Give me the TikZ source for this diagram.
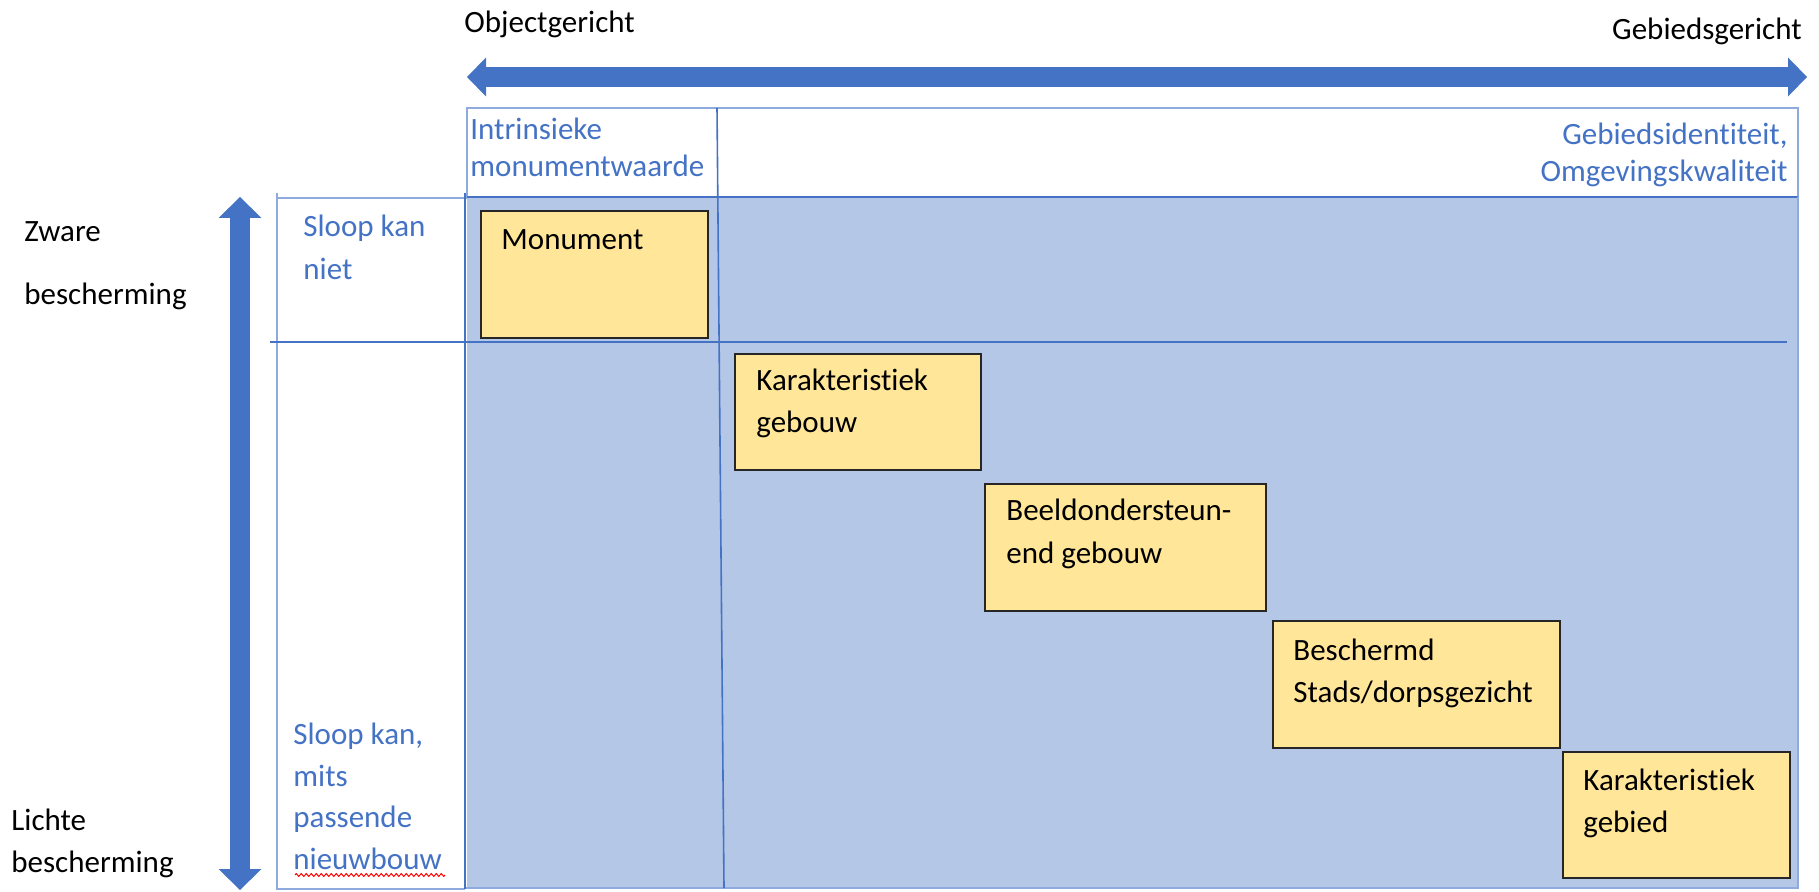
\documentclass[tikz,border=0pt]{standalone}
\usepackage{fontspec}
\setmainfont{Carlito}[Ligatures=CommonOff]
\usetikzlibrary{arrows.meta,positioning,decorations.pathmorphing}
\definecolor{blauw}{HTML}{4472C4}
\definecolor{vlak}{HTML}{B4C7E7}
\definecolor{lijn}{HTML}{8FAADC}
\definecolor{geel}{HTML}{FFE699}
\definecolor{rand}{HTML}{262626}

\begin{document}
\begin{tikzpicture}[
        x=0.5pt, y=-0.5pt, % 1 eenheid = 1 pixel, y naar beneden
        pijl/.style={draw=blauw, line width=10pt},
        kader/.style={draw=rand, fill=geel, line width=1pt, anchor=north west, inner sep=0pt},
        kadertekst/.style={anchor=base west, align=left, inner sep=0pt, font=\fontsize{15.5}{21}\selectfont}, % base = laatste regel
        as/.style={anchor=base west, align=left, inner sep=0pt, font=\fontsize{15.5}{21}\selectfont},
        kop/.style={anchor=base west, align=left, inner sep=0pt, text=blauw, font=\fontsize{15.5}{18.5}\selectfont},
        rij/.style={anchor=base west, align=left, inner sep=0pt, text=blauw, font=\fontsize{15.5}{21}\selectfont},
    ]
    \useasboundingbox (0,0) rectangle (1819,892);

    % vlakken en rasterlijnen
    \fill[vlak] (467,197) rectangle (1798,888);
    \draw[lijn, line width=0.7pt] (467,108) rectangle (1798,197);
    \draw[blauw, line width=1.2pt] (467,197) -- (1798,197);
    \draw[lijn, line width=0.7pt] (277,193) -- (277,889) -- (465,889);
    \draw[lijn, line width=0.7pt] (277,198) -- (467,198);
    \draw[lijn, line width=0.7pt] (1798,197) -- (1798,888) -- (465,888);
    \draw[blauw, line width=0.8pt] (465,193) -- (465,889);
    \draw[blauw, line width=0.8pt] (270,342) -- (1787,342);
    \draw[blauw, line width=0.8pt] (717,108) -- (724,888);

    % pijlen
    \coordinate (objectpunt) at (467,77);
    \coordinate (gebiedpunt) at (1807,77);
    \coordinate (zwaarpunt) at (240,197);
    \coordinate (lichtpunt) at (240,890);
    \draw[pijl, {Triangle[length=9.5pt,width=19.5pt,line width=0pt]}-{Triangle[length=9.5pt,width=19.5pt,line width=0pt]}] (objectpunt) -- (gebiedpunt);
    \draw[pijl, {Triangle[length=10.5pt,width=21.5pt,line width=0pt]}-{Triangle[length=10.5pt,width=21.5pt,line width=0pt]}] (zwaarpunt) -- (lichtpunt);

    % assen
    \node[as] (object) at (464,33) {Objectgericht};
    \node[as, anchor=base east] (gebied) at (1802,40) {Gebiedsgericht};
    \node[as, font=\fontsize{15.5}{31.5}\selectfont] (zwaar) at (24,305) {Zware\\bescherming};
    \node[as] (licht) at (11,872) {Lichte\\bescherming};

    % kopjes
    \node[kop] (intrinsiek) at (470,177) {Intrinsieke\\monumentwaarde};
    \node[kop, anchor=base east, align=right] (identiteit) at (1788,182) {Gebiedsidentiteit,\\Omgevingskwaliteit};
    \node[rij, font=\fontsize{15.5}{21.5}\selectfont] (sloopniet) at (303,280) {Sloop kan\\niet};
    \node[rij, font=\fontsize{15.5}{20.7}\selectfont] (sloopwel) at (293,869) {Sloop kan,\\mits\\passende\\nieuwbouw};
    \draw[red, line width=0.5pt, decorate, decoration={zigzag, segment length=2.5pt, amplitude=0.7pt}] (295,875) -- (445,875);

    % kaders
    \node[kader, minimum width=113.5pt, minimum height=63.5pt] (monument) at (480,210) {};
    \node[kader, minimum width=123pt, minimum height=58pt] (kargebouw) at (734,353) {};
    \node[kader, minimum width=140.5pt, minimum height=63.5pt] (beeld) at (984,483) {};
    \node[kader, minimum width=143.5pt, minimum height=63.5pt] (stads) at (1272,620) {};
    \node[kader, minimum width=113.5pt, minimum height=63pt] (kargebied) at (1562,751) {};

    \node[kadertekst] (monumentT) at ([shift={(21,40)}]monument.north west) {Monument};
    \node[kadertekst] (kargebouwT) at ([shift={(22,80)}]kargebouw.north west) {Karakteristiek\\gebouw};
    \node[kadertekst] (beeldT) at ([shift={(22,80)}]beeld.north west) {Beeldondersteun-\\end gebouw};
    \node[kadertekst] (stadsT) at ([shift={(21,82)}]stads.north west) {Beschermd\\Stads/dorpsgezicht};
    \node[kadertekst] (kargebiedT) at ([shift={(21,81)}]kargebied.north west) {Karakteristiek\\gebied};
\end{tikzpicture}
\end{document}
